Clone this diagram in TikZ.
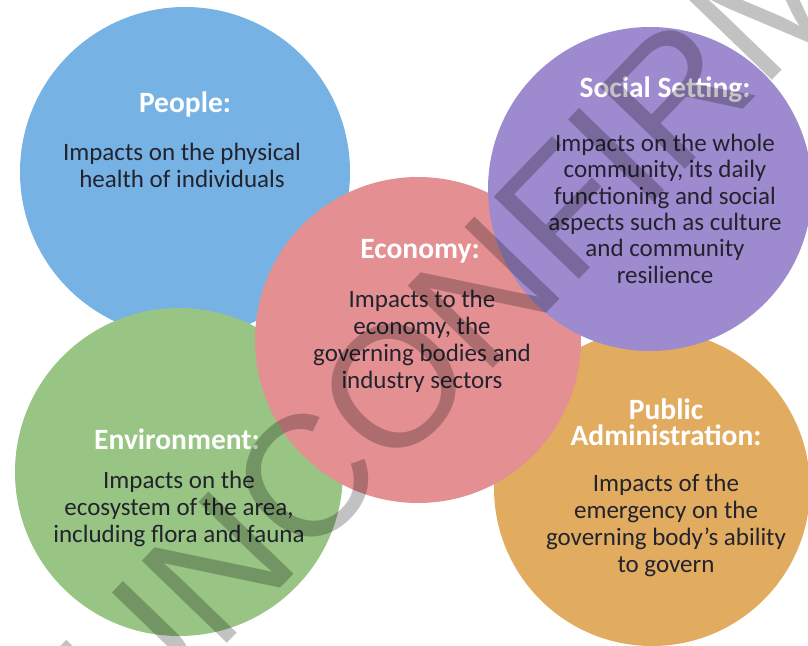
\documentclass[tikz,border=0pt]{standalone}
\usepackage{fontspec}
\setmainfont{Carlito}
\newfontfamily\wmfont{Liberation Sans}
\definecolor{cblue}{RGB}{118,178,228}
\definecolor{cgreen}{RGB}{152,196,132}
\definecolor{cpink}{RGB}{228,144,146}
\definecolor{cpurple}{RGB}{158,138,206}
\definecolor{corange}{RGB}{226,172,96}
\definecolor{txtdark}{RGB}{35,35,45}
\begin{document}
\begin{tikzpicture}[x=1pt,y=-1pt,
  bubble/.style={circle, inner sep=0pt, draw=none, minimum size=#1},
  ttl/.style={text=white, font=\bfseries\fontsize{29.5}{26}\selectfont, align=center, anchor=base, inner sep=0pt},
  bodytxt/.style={text=txtdark, font=\fontsize{25}{27}\selectfont, align=center, anchor=base, inner sep=0pt},
  wmark/.style={text=black, text opacity=0.24, font=\wmfont\fontsize{172}{172}\selectfont, inner sep=0pt, rotate=46}]
\useasboundingbox (0,0) rectangle (808,645);
\clip (0,0) rectangle (808,645);
% circles (drawing order matters)
\node[bubble=330pt, fill=cblue]   (people)  at (185,172) {};
\node[bubble=328pt, fill=cgreen]  (env)     at (179,472) {};
\node[bubble=316pt, fill=corange] (pubadm)  at (652,488) {};
\node[bubble=326pt, fill=cpink]   (economy) at (418,340) {};
\node[bubble=324pt, fill=cpurple] (social)  at (650,189) {};
% People (anchor base = baseline of the last line)
\node[ttl] (peopleT) at (185,112) {People:};
\node[bodytxt] (peopleB) at (182,187) {Impacts on the physical\\health of individuals};
% Social Setting
\node[ttl] (socialT) at (665,97) {Social Setting:};
\node[bodytxt, font=\fontsize{25}{26.3}\selectfont] (socialB) at (665,283) {Impacts on the whole\\community, its daily\\functioning and social\\aspects such as culture\\and community\\resilience};
% Economy
\node[ttl] (economyT) at (420,258) {Economy:};
\node[bodytxt] (economyB) at (422,388) {Impacts to the\\economy, the\\governing bodies and\\industry sectors};
% Environment
\node[ttl] (envT) at (177,449) {Environment:};
\node[bodytxt] (envB) at (179,542) {Impacts on the\\ecosystem of the area,\\including flora and fauna};
% Public Administration
\node[ttl] (pubadmT) at (666,445) {Public\\Administration:};
\node[bodytxt] (pubadmB) at (666,572) {Impacts of the\\emergency on the\\governing body’s ability\\to govern};
% watermark
\node[wmark] (wm) at (537,238) {UNCONFIRMED};
\end{tikzpicture}
\end{document}
